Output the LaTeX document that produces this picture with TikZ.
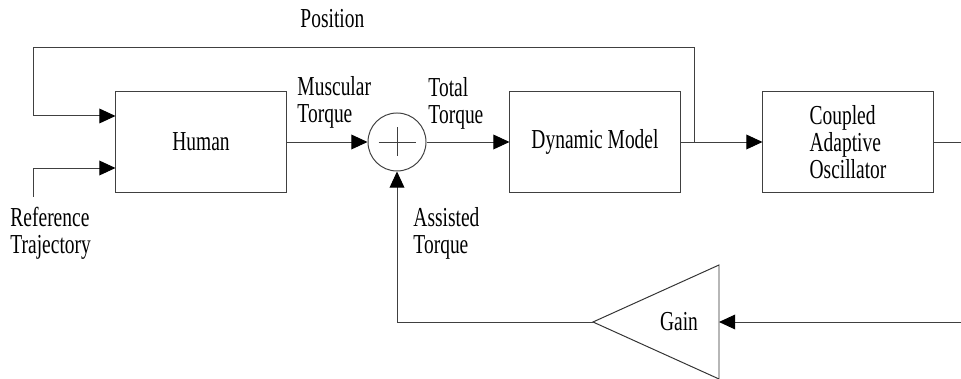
\documentclass[tikz,border=0pt]{standalone}
\usepackage{fontspec}
\setmainfont[FakeStretch=0.71]{Liberation Serif}
\usetikzlibrary{arrows.meta,positioning}

\begin{document}
\begin{tikzpicture}[x=0.025cm,y=-0.025cm,->,>={Triangle[length=11.5pt,width=10.5pt,color=black]},
                    line width=0.7pt,font=\fontsize{19.5}{19}\selectfont]
  \tikzstyle{block}=[rectangle,draw=black!75,minimum width=4.25cm,minimum height=2.525cm]
  \tikzstyle{sumnode}=[circle,draw=black!75,minimum size=1.45cm,inner sep=0pt]
  \tikzstyle{label}=[anchor=north west,align=left,inner sep=0pt]
  \useasboundingbox (0,0) rectangle (961,379);

  \node[block]          (Human)   at (201,142)  {Human};
  \node[sumnode]        (Sum)     at (397,142)  {};
  \node[block]          (Dynamic) at (595,142)  {Dynamic Model};
  \node[block,align=left] (Oscillator) at (848,142) {Coupled\\Adaptive\\Oscillator};
  \node                 (Gain)    at (679,322)  {Gain};

  \coordinate (GainTip)    at (593,322);
  \coordinate (GainTop)    at (719,265);
  \coordinate (GainBottom) at (719,379);
  \coordinate (GainIn)     at (719,322);
  \coordinate (Feedback)   at (961,322);
  \coordinate (Output)     at (961,142);
  \coordinate (Branch)     at (694,142);
  \coordinate (TopLeft)    at (33,47);
  \coordinate (RefStart)   at (33,197);

  % texts
  \node[label] (PositionText) at (300,9)   {Position};
  \node[label] (MuscularText) at (297,76)  {Muscular\\Torque};
  \node[label] (TotalText)    at (428,77)  {Total\\Torque};
  \node[label] (AssistedText) at (413,207) {Assisted\\Torque};
  \node[label] (RefText)      at (10,207)  {Reference\\Trajectory};

  % plus sign and gain triangle
  \draw[-,black!75] (Sum.center) +(-18.5,0) -- +(18.5,0)
                    (Sum.center) +(0,-14.5) -- +(0,14.5);
  \draw[-,black!80] (GainTip) -- (GainTop) -- (GainBottom) -- cycle;

  \path[-,draw=black!75]
        (Human)   edge[->]  (Sum)
        (Sum)     edge[->]  (Dynamic)
        (Dynamic) edge[->]  (Oscillator)
        (Oscillator) edge   (Output)
        (Feedback) edge[->] (GainIn);
  \draw[black!75] (GainTip) -| (Sum);
  \draw[black!75] (Branch) |- (TopLeft) |- ([yshift=0.65cm]Human.west);
  \draw[black!75] (RefStart) |- ([yshift=-0.65cm]Human.west);
\end{tikzpicture}
\end{document}
